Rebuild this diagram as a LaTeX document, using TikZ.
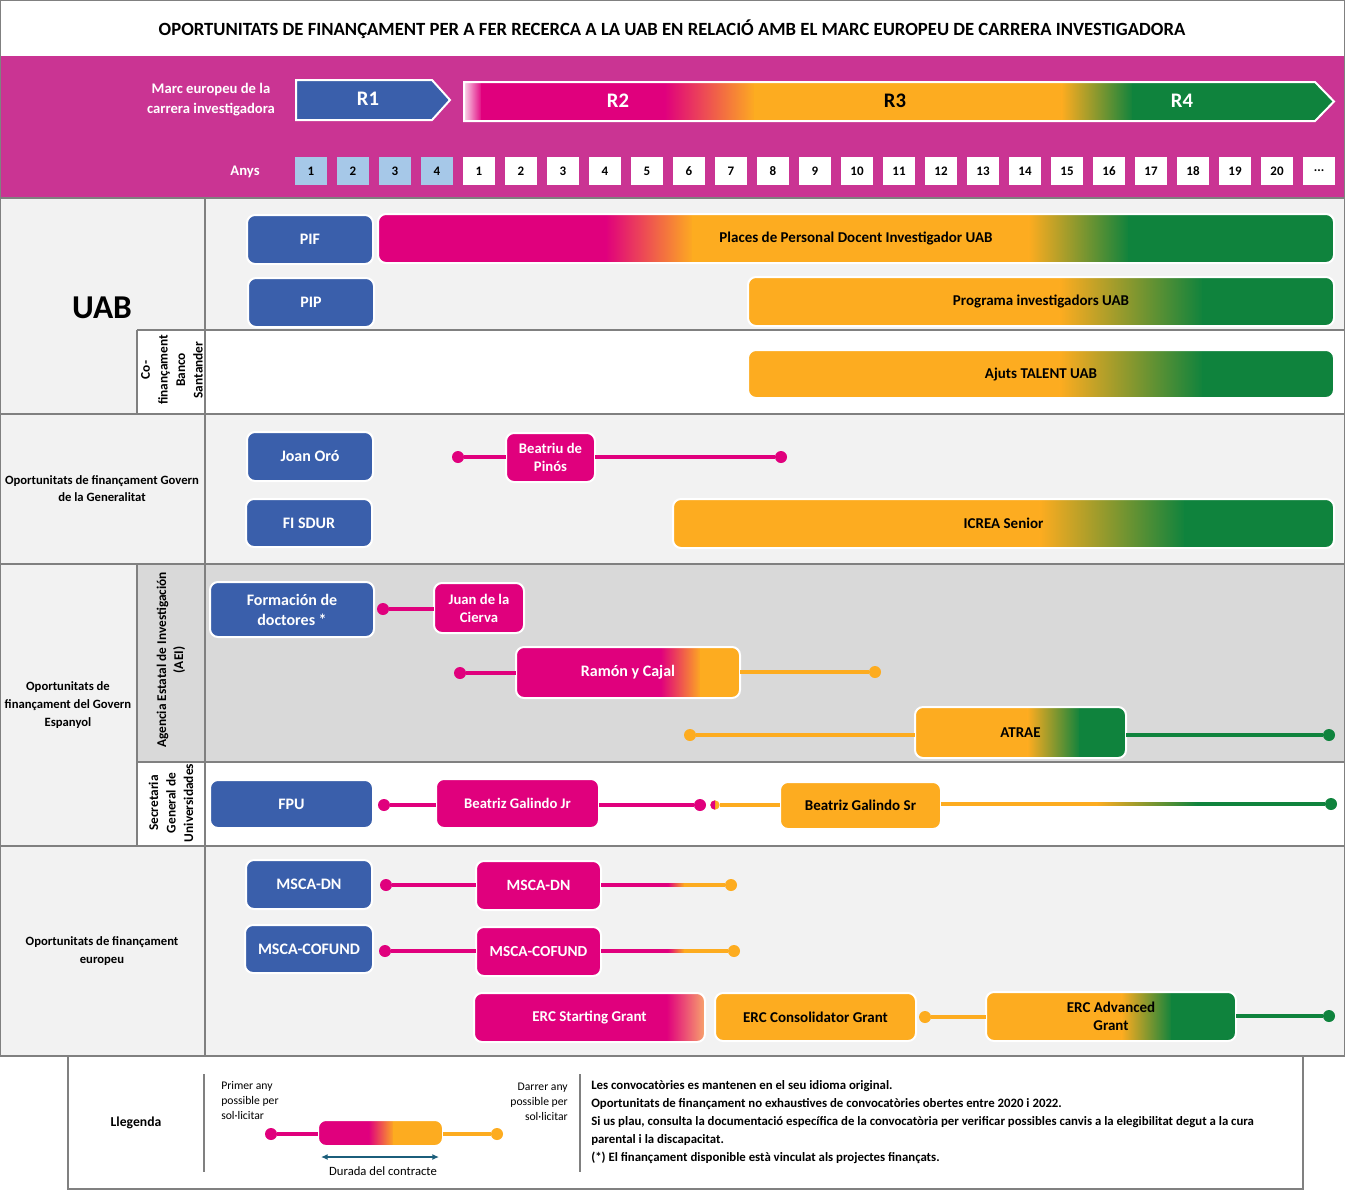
\documentclass[tikz,border=0pt]{standalone}
\usepackage{fontspec}
\setmainfont{Carlito}
\usetikzlibrary{arrows.meta,calc}
\definecolor{mag}{HTML}{E0007D}
\definecolor{org}{HTML}{FDAC20}
\definecolor{grn}{HTML}{0F833D}
\definecolor{blu}{HTML}{3A5FAB}
\definecolor{hdr}{HTML}{CA3493}
\definecolor{lblu}{HTML}{A6C8E8}
\definecolor{bgA}{HTML}{F2F2F2}
\definecolor{bgB}{HTML}{D9D9D9}
\definecolor{gridc}{HTML}{808080}
\definecolor{arrteal}{HTML}{1B5E7B}
\definecolor{ergend}{HTML}{F8A66C}
\newcommand\fsz[2]{\fontsize{#1}{#2}\selectfont}
% #1 style, #2 name, #3 x1, #4 y1, #5 x2, #6 y2, #7 text
\newcommand\mkbox[7]{%
  \pgfmathsetmacro\bw{(#5-#3)*0.75}%
  \pgfmathsetmacro\bh{(#6-#4)*0.75}%
  \node[#1, minimum width=\bw pt, minimum height=\bh pt] (#2) at ({(#3+#5)/2},{(#4+#6)/2}) {#7};}
% x1,y1,x2,y2, start colour, stops colour/x
\newcommand\gfill[6]{%
  \begin{scope}
    \clip[rounded corners=6pt] (#1,#2) rectangle (#3,#4);
    \foreach \cc/\xx [remember=\cc as \pc (initially #5), remember=\xx as \px (initially #1)] in {#6}
      {\shade[left color=\pc, right color=\cc] (\px-0.4,#2) rectangle (\xx+0.4,#4);}
  \end{scope}}
\begin{document}
\begin{tikzpicture}[x=0.75pt,y=-0.75pt,
  frm/.style={draw=white, line width=1.5pt, rounded corners=6pt, inner sep=1pt, outer sep=0pt, align=center},
  bbox/.style={frm, fill=blu, text=white, font=\bfseries\fsz{12}{15}},
  mbox/.style={frm, fill=mag, text=white, font=\bfseries\fsz{11}{13.5}},
  obox/.style={frm, fill=org, text=black, font=\bfseries\fsz{11.25}{13.5}},
  tb/.style={text=black, font=\bfseries\fsz{11.25}{13.5}},
  wt/.style={text=white, font=\bfseries\fsz{11.25}{13.5}},
  dot/.style={circle, fill=#1, inner sep=0pt, minimum size=9pt, outer sep=0pt},
  ln/.style={draw=#1, line width=2.6pt},
  gridl/.style={draw=gridc, line width=1pt},
  yr/.style={inner sep=0pt, minimum width=24pt, minimum height=21pt, font=\bfseries\fsz{9.75}{11}},
  lbl/.style={align=center, font=\bfseries\fsz{9.5}{13.5}, text=black},
  rlbl/.style={align=center, rotate=90, font=\bfseries\fsz{10}{13.2}, text=black},
  hw/.style={align=center, text=white, font=\bfseries\fsz{11}{15}},
  rl/.style={font=\bfseries\fsz{15.5}{17}},
  small/.style={font=\fsz{8.75}{11.25}, inner sep=0pt, text=black},
]
\useasboundingbox (0,0) rectangle (1345,1190);
% ---------- backgrounds ----------
\fill[white] (0,0) rectangle (1345,1190);
\fill[hdr] (0,56) rectangle (1345,198);
\fill[bgA] (0,198) rectangle (1345,564);
\fill[white] (137,330) rectangle (1345,414);
\fill[bgA] (0,564) rectangle (137,846);
\fill[bgB] (137,564) rectangle (1345,762);
\fill[white] (137,762) rectangle (1345,846);
\fill[bgA] (0,846) rectangle (1345,1056);
% ---------- grid ----------
\draw[gridl] (0.5,0.5) rectangle (1344.5,1056);
\draw[gridl] (0,198) -- (1345,198);
\draw[gridl] (205,198) -- (205,1056);
\draw[gridl] (137,330) -- (1345,330);
\draw[gridl] (137,330) -- (137,414);
\draw[gridl] (0,414) -- (1345,414);
\draw[gridl] (0,564) -- (1345,564);
\draw[gridl] (137,564) -- (137,846);
\draw[gridl] (137,762) -- (1345,762);
\draw[gridl] (0,846) -- (1345,846);
\draw[gridl] (68,1056) -- (68,1189) -- (1303,1189) -- (1303,1056);
% ---------- title & header ----------
\node[font=\bfseries\fsz{14}{16}] (title) at (672,29) {OPORTUNITATS DE FINANÇAMENT PER A FER RECERCA A LA UAB EN RELACIÓ AMB EL MARC EUROPEU DE CARRERA INVESTIGADORA};
\node[hw] (marc) at (211,100) {Marc europeu de la\\carrera investigadora};
\node[hw] (anys) at (245,172) {Anys};
\fill[blu] (296,80) -- (432,80) -- (450,100) -- (432,120) -- (296,120) -- cycle;
\draw[white, line width=1.5pt] (296,80) -- (432,80) -- (450,100) -- (432,120) -- (296,120) -- cycle;
\node[rl, text=white] (r1) at (368,99) {R1};
\begin{scope}
  \clip (464,82) -- (1315,82) -- (1334,101.5) -- (1315,121) -- (464,121) -- cycle;
  \foreach \cc/\xx [remember=\cc as \pc (initially mag!15), remember=\xx as \px (initially 464)] in {mag/482,mag/665,org/755,org/1062,grn/1133,grn/1340}
    {\shade[left color=\pc, right color=\cc] (\px-0.4,80) rectangle (\xx+0.4,123);}
\end{scope}
\draw[white, line width=1.5pt] (464,82) -- (1315,82) -- (1334,101.5) -- (1315,121) -- (464,121) -- cycle;
\node[rl, text=white] (r2) at (618,101) {R2};
\node[rl, text=black] (r3) at (895,101) {R3};
\node[rl, text=white] (r4) at (1182,101) {R4};
\foreach \i in {1,...,4} \node[yr, fill=lblu] (ra\i) at ({311+42*(\i-1)},171) {\i};
\foreach \i in {1,...,20} \node[yr, fill=white] (yb\i) at ({437+42*\i},171) {\i};
\node[yr, fill=white] (ymore) at (1319,171) {...};
% ---------- left labels ----------
\node[lbl, font=\bfseries\fsz{25}{27}] (luab) at (102,308) {UAB};
\node[rlbl] (lcof) at (172,370) {Co-\\finançament\\Banco\\Santander};
\node[lbl, font=\bfseries\fsz{9.5}{12.75}] (lgen) at (102,489) {Oportunitats de finançament Govern\\de la Generalitat};
\node[lbl] (lesp) at (68,705) {Oportunitats de\\finançament del Govern\\Espanyol};
\node[rlbl, font=\bfseries\fsz{10}{12.75}] (laei) at (171,660) {Agencia Estatal de Investigación\\(AEI)};
\node[rlbl] (lsgu) at (171,803) {Secretaria\\General de\\Universidades};
\node[lbl] (leur) at (102,951) {Oportunitats de finançament\\europeu};
% ---------- UAB ----------
\mkbox{bbox}{pif}{247}{215}{373}{264}{PIF}
\gfill{378}{214}{1334}{263}{mag}{mag/606,org/693,org/1029,grn/1129,grn/1334}
\mkbox{frm,tb}{places}{378}{214}{1334}{263}{Places de Personal Docent Investigador UAB}
\mkbox{bbox}{pip}{248}{278}{374}{327}{PIP}
\gfill{748}{277}{1334}{326}{org}{org/1060,grn/1203,grn/1334}
\mkbox{frm,tb}{prog}{748}{277}{1334}{326}{Programa investigadors UAB}
\gfill{748}{350}{1334}{398}{org}{org/1060,grn/1203,grn/1334}
\mkbox{frm,tb}{talent}{748}{350}{1334}{398}{Ajuts TALENT UAB}
% ---------- Generalitat ----------
\mkbox{bbox}{joan}{247}{432}{373}{481}{Joan Oró}
\mkbox{bbox}{fisdur}{246}{499}{372}{547}{FI SDUR}
\mkbox{mbox}{bp}{506}{433}{595}{482}{Beatriu de\\Pinós}
\node[dot=mag] (bpA) at (458,457) {};
\node[dot=mag] (bpB) at (781,457) {};
\draw[ln=mag] (bpA) -- (bpA -| bp.west);
\draw[ln=mag] (bp.east |- bpB) -- (bpB);
\gfill{673}{499}{1334}{548}{org}{org/1040,grn/1185,grn/1334}
\mkbox{frm,tb}{icrea}{673}{499}{1334}{548}{ICREA Senior}
% ---------- Spain ----------
\mkbox{bbox}{fdoc}{210}{582}{374}{637}{Formación de\\doctores *}
\mkbox{mbox}{jdlc}{434}{583}{524}{633}{Juan de la\\Cierva}
\node[dot=mag] (jcA) at (383,609) {};
\draw[ln=mag] (jcA) -- (jcA -| jdlc.west);
\gfill{516}{647}{740}{698}{mag}{mag/661,org/701,org/740}
\mkbox{frm,wt,font=\bfseries\fsz{12}{13.5}}{ryc}{516}{647}{740}{698}{Ramón y Cajal}
\node[dot=mag] (rcA) at (460,673) {};
\node[dot=org] (rcB) at (875,672) {};
\draw[ln=mag] (rcA) -- (rcA -| ryc.west);
\draw[ln=org] (ryc.east |- rcB) -- (rcB);
\gfill{915}{707}{1126}{758}{org}{org/1028,grn/1080,grn/1126}
\mkbox{frm,tb,font=\bfseries\fsz{11.25}{13.5}}{atrae}{915}{707}{1126}{758}{ATRAE}
\node[dot=org] (atA) at (690,735) {};
\node[dot=grn] (atB) at (1329,735) {};
\draw[ln=org] (atA) -- (atA -| atrae.west);
\draw[ln=grn] (atrae.east |- atB) -- (atB);
\mkbox{bbox}{fpu}{210}{780}{373}{828}{FPU}
\mkbox{mbox}{bgjr}{436}{779}{599}{828}{Beatriz Galindo Jr}
\node[dot=mag] (bjA) at (384,805) {};
\node[dot=mag] (bjB) at (700,805) {};
\draw[ln=mag] (bjA) -- (bjA -| bgjr.west);
\draw[ln=mag] (bgjr.east |- bjB) -- (bjB);
\mkbox{obox}{bgsr}{780}{782}{941}{829}{Beatriz Galindo Sr}
\node[dot=org, minimum size=7pt] (bsA) at (715,805) {};
\fill[mag] (bsA.north) arc[start angle=90, end angle=270, radius=3.5pt] -- cycle;
\draw[ln=org] (bsA.east) -- (bsA -| bgsr.west);
\node[dot=grn] (bsB) at (1331,804) {};
\coordinate (gsA) at (1097,804);
\coordinate (gsB) at (1197,804);
\draw[ln=org] (bgsr.east |- gsA) -- (gsA);
\shade[left color=org, right color=grn] ($(gsA)+(-0.3,-1.75)$) rectangle ($(gsB)+(0.3,1.75)$);
\draw[ln=grn] (gsB) -- (bsB);
% ---------- Europe ----------
\mkbox{bbox}{bdn}{246}{860}{372}{909}{MSCA-DN}
\mkbox{bbox}{bcof}{245}{925}{373}{973}{MSCA-COFUND}
\mkbox{mbox,font=\bfseries\fsz{11.75}{13.5}}{mdn}{476}{861}{601}{910}{MSCA-DN}
\node[dot=mag] (mdA) at (386,885) {};
\node[dot=org] (mdB) at (731,885) {};
\coordinate (mdC) at (668,885);
\coordinate (mdD) at (684,885);
\draw[ln=mag] (mdA) -- (mdA -| mdn.west);
\draw[ln=mag] (mdn.east |- mdC) -- (mdC);
\shade[left color=mag, right color=org] ($(mdC)+(-0.3,-1.75)$) rectangle ($(mdD)+(0.3,1.75)$);
\draw[ln=org] (mdD) -- (mdB);
\mkbox{mbox,font=\bfseries\fsz{11.5}{13.5}}{mcof}{476}{927}{601}{976}{MSCA-COFUND}
\node[dot=mag] (mcA) at (385,951) {};
\node[dot=org] (mcB) at (734,951) {};
\coordinate (mcC) at (668,951);
\coordinate (mcD) at (684,951);
\draw[ln=mag] (mcA) -- (mcA -| mcof.west);
\draw[ln=mag] (mcof.east |- mcC) -- (mcC);
\shade[left color=mag, right color=org] ($(mcC)+(-0.3,-1.75)$) rectangle ($(mcD)+(0.3,1.75)$);
\draw[ln=org] (mcD) -- (mcB);
\gfill{474}{993}{705}{1042}{mag}{mag/667,ergend/705}
\mkbox{frm,wt}{ercsg}{474}{993}{705}{1042}{ERC Starting Grant}
\mkbox{obox}{erccg}{715}{993}{916}{1041}{ERC Consolidator Grant}
\gfill{986}{992}{1236}{1041}{org}{org/1122,grn/1172,grn/1236}
\mkbox{frm,tb}{ercag}{986}{992}{1236}{1041}{ERC Advanced\\Grant}
\node[dot=org] (eaA) at (925,1017) {};
\node[dot=grn] (eaB) at (1329,1016) {};
\draw[ln=org] (eaA) -- (eaA -| ercag.west);
\draw[ln=grn] (ercag.east |- eaB) -- (eaB);
% ---------- legend ----------
\node[lbl, font=\bfseries\fsz{10.25}{12}] (leg) at (136,1123) {Llegenda};
\draw[gridl, line width=1.5pt] (204,1074) -- (204,1172);
\draw[gridl, line width=1.5pt] (580,1074) -- (580,1172);
\node[small, align=left, anchor=north west] (first) at (221,1081) {Primer any\\possible per\\sol·licitar};
\node[small, align=right, anchor=north east] (last) at (568,1083) {Darrer any\\possible per\\sol·licitar};
\gfill{318}{1120}{443}{1146}{mag}{mag/369,org/394,org/443}
\mkbox{frm}{legbox}{318}{1120}{443}{1146}{}
\node[dot=mag] (lgA) at (271,1134) {};
\node[dot=org] (lgB) at (497,1134) {};
\draw[ln=mag] (lgA) -- (lgA -| legbox.west);
\draw[ln=org] (legbox.east |- lgB) -- (lgB);
\coordinate (arA) at (321,1157);
\coordinate (arB) at (439,1157);
\draw[arrteal, line width=1.2pt, {Latex[length=5pt,width=4.5pt]}-{Latex[length=5pt,width=4.5pt]}] (arA) -- (arB);
\node[small, font=\fsz{9.5}{11}] (dur) at (383,1171) {Durada del contracte};
\node[small, font=\bfseries\fsz{9.6}{13.5}, align=left, anchor=north west] (notes) at (591,1080) {Les convocatòries es mantenen en el seu idioma original.\\Oportunitats de finançament no exhaustives de convocatòries obertes entre 2020 i 2022.\\Si us plau, consulta la documentació específica de la convocatòria per verificar possibles canvis a la elegibilitat degut a la cura\\parental i la discapacitat.\\(*) El finançament disponible està vinculat als projectes finançats.};
\end{tikzpicture}
\end{document}
